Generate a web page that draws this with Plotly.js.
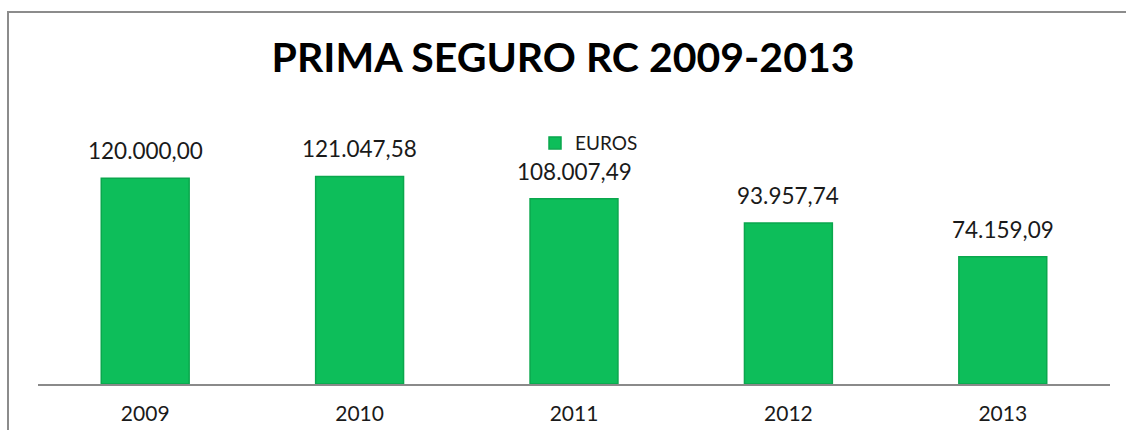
<!DOCTYPE html>
<html>
<head>
<meta charset="utf-8">
<script src="https://cdn.plot.ly/plotly-3.0.1.min.js"></script>
<style>
  html, body { margin: 0; padding: 0; background: #fff; overflow: hidden; }
  #wrap { position: relative; width: 1126px; height: 430px; overflow: hidden; }
  #chart { position: absolute; left: 0; top: 0; width: 1126px; height: 430px; }
  #frame { position: absolute; left: 7px; top: 11px; width: 1119px; height: 419px;
           border-left: 2px solid #8c8c8c; border-top: 2px solid #8c8c8c; pointer-events: none; box-sizing: border-box; }
</style>
</head>
<body>
<div id="wrap">
  <div id="chart"></div>
  <div id="frame"></div>
</div>
<script>
const years = ['2009', '2010', '2011', '2012', '2013'];
const euros = [120000.00, 121047.58, 108007.49, 93957.74, 74159.09];
const seriesName = 'EUROS';
const chartTitle = 'PRIMA SEGURO RC 2009-2013';

function fmt(v) {
  const parts = v.toFixed(2).split('.');
  parts[0] = parts[0].replace(/\B(?=(\d{3})+(?!\d))/g, '.');
  return parts[0] + ',' + parts[1];
}

const trace = {
  type: 'bar',
  x: years,
  y: euros,
  name: seriesName,
  marker: { color: '#0dbe5a', line: { color: '#0aa74d', width: 1.5 } },
  hoverinfo: 'none',
  showlegend: true
};

const annotations = years.map((yr, i) => ({
  x: yr, y: euros[i], xref: 'x', yref: 'y',
  text: fmt(euros[i]), showarrow: false,
  yanchor: 'bottom', yshift: 12,
  font: { family: 'Lato, "Open Sans", sans-serif', size: 22.5, color: '#1a1a1a' }
}));

const layout = {
  width: 1126, height: 430,
  margin: { l: 38, r: 16, t: 144, b: 46, pad: 0 },
  paper_bgcolor: '#ffffff', plot_bgcolor: '#ffffff',
  separators: ',.',
  title: {
    text: '<b>' + chartTitle + '</b>',
    x: 0.5, xanchor: 'center', y: 0.865, yanchor: 'middle',
    font: { family: 'Lato, "Open Sans", sans-serif', size: 41, color: '#000000' }
  },
  bargap: 0.59,
  xaxis: {
    showline: true, linecolor: '#8a8a8a', linewidth: 2,
    ticks: '', showgrid: false, zeroline: false,
    tickfont: { family: 'Lato, "Open Sans", sans-serif', size: 21, color: '#1a1a1a' },
    ticklabelstandoff: 10
  },
  yaxis: {
    range: [0, 140000], visible: false, showgrid: false, zeroline: false, fixedrange: true
  },
  legend: {
    orientation: 'h', x: 0.514, xanchor: 'center', y: 1.004, yanchor: 'middle',
    font: { family: 'Lato, "Open Sans", sans-serif', size: 19, color: '#1a1a1a' },
    itemwidth: 30, bgcolor: 'rgba(0,0,0,0)'
  },
  annotations: annotations
};

Plotly.newPlot('chart', [trace], layout, { displayModeBar: false, staticPlot: true });
</script>
</body>
</html>
